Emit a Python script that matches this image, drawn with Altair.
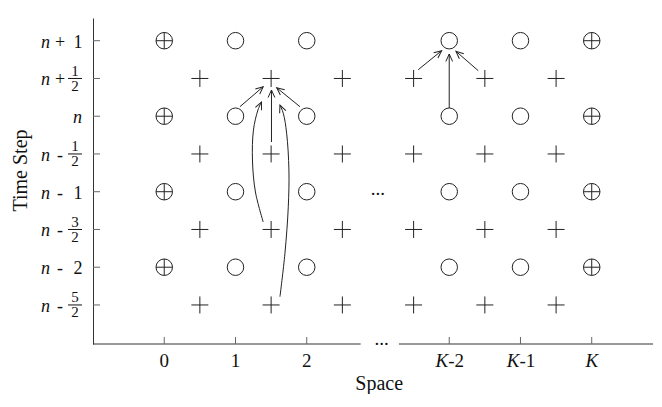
import altair as alt
import pandas as pd
import numpy as np

# ---------------- data ----------------
space_nodes = [0, 1, 2, 4, 5, 6]          # integer grid columns (0,1,2,...,K-2,K-1,K)
boundary_nodes = [0, 6]                   # boundary columns (circle with cross)
half_nodes = [0.5, 1.5, 2.5, 3.5, 4.5, 5.5]
time_levels = [1, 0, -1, -2]              # n+1, n, n-1, n-2
half_levels = [0.5, -0.5, -1.5, -2.5]     # n+1/2 ... n-5/2

time_ticks = [1, 0.5, 0, -0.5, -1, -1.5, -2, -2.5]
time_op = ["+", "+", "", "-", "-", "-", "-", "-"]
time_whole = ["1", "", "", "", "1", "", "2", ""]
time_num = ["", "1", "", "1", "", "3", "", "5"]
time_den = ["", "2", "", "2", "", "2", "", "2"]

space_ticks = [0, 1, 2, 4, 5, 6]
space_main = ["0", "1", "2", "K", "K", "K"]
space_suffix = ["", "", "", "-2", "-1", ""]

# straight arrows (start -> end)
arrow_x0 = [1.062, 1.905, 1.505, 3.565, 4.407, 4.0]
arrow_y0 = [0.126, 0.126, -0.342, 0.616, 0.603, 0.109]
arrow_x1 = [1.389, 1.578, 1.505, 3.893, 4.094, 4.0]
arrow_y1 = [0.391, 0.377, 0.347, 0.868, 0.860, 0.824]

# curved arrows (points from start to end)
curve1_x = [1.389, 1.280, 1.238, 1.252, 1.315, 1.365]
curve1_y = [-1.401, -1.004, -0.580, -0.183, 0.082, 0.188]
curve2_x = [1.624, 1.694, 1.741, 1.750, 1.718, 1.671, 1.624]
curve2_y = [-2.391, -1.816, -1.199, -0.713, -0.226, 0.038, 0.148]

axis_x_start = [-1.0, 3.294]
axis_x_end = [2.757, 6.86]
ellipsis_x = [3.05, 3.0]

# ---------------- layout ----------------
W, H = 560, 326
XMIN, XMAX = -1.0, 6.86
YMIN, YMAX = -3.017, 1.3007
SX = W / (XMAX - XMIN)
SY = H / (YMAX - YMIN)
FONT = "Liberation Serif, Times New Roman, serif"
INK = "#222222"

xs = alt.Scale(domain=[XMIN, XMAX], nice=False, zero=False)
ys = alt.Scale(domain=[YMIN, YMAX], nice=False, zero=False)

y_axis = alt.Axis(domain=True, ticks=False, labels=False, grid=False, domainColor="#333333",
                  domainWidth=1, title="Time Step", titleFont=FONT, titleFontSize=20,
                  titleFontWeight="normal", titleColor="#111111", titleAngle=270,
                  titleX=-73, titleY=152, titleAlign="center", titleBaseline="middle")
x_axis = alt.Axis(domain=False, ticks=False, labels=False, grid=False, title="Space",
                  titleFont=FONT, titleFontSize=20, titleFontWeight="normal", titleColor="#111111",
                  titleX=285.7, titleY=45, titleAlign="center", titleBaseline="alphabetic")


def X(field="x"):
    return alt.X(f"{field}:Q", scale=xs, axis=x_axis, title="Space")


def Y(field="y"):
    return alt.Y(f"{field}:Q", scale=ys, axis=y_axis, title="Time Step")


CROSS = "M-1,0L1,0M0,-1L0,1"
HEAD = "M-0.45,1L0,0L0.45,1"

circles = pd.DataFrame([(x, y) for x in space_nodes for y in time_levels], columns=["x", "y"])
bcross = pd.DataFrame([(x, y) for x in boundary_nodes for y in time_levels], columns=["x", "y"])
hcross = pd.DataFrame([(x, y) for x in half_nodes for y in half_levels], columns=["x", "y"])

circ_layer = alt.Chart(circles).mark_point(shape="circle", size=272, filled=False, color=INK,
                                           strokeWidth=1, opacity=1).encode(x=X(), y=Y())
bcross_layer = alt.Chart(bcross).mark_point(shape=CROSS, size=272, filled=False, color=INK,
                                            strokeWidth=1, opacity=1).encode(x=X(), y=Y())
hcross_layer = alt.Chart(hcross).mark_point(shape=CROSS, size=289, filled=False, color=INK,
                                            strokeWidth=1, opacity=1).encode(x=X(), y=Y())

# x-axis line with gap
axis_df = pd.DataFrame({"x": axis_x_start, "x2": axis_x_end})
xline = alt.Chart(axis_df).mark_rule(color="#333333", strokeWidth=1).encode(
    x=X(), x2="x2:Q", y=alt.value(H))

# ticks (inward)
ytick_df = pd.DataFrame({"y": time_ticks})
yticks = alt.Chart(ytick_df).mark_rule(color="#666666", strokeWidth=1).encode(
    y=Y(), x=alt.value(0), x2=alt.value(7))
xtick_df = pd.DataFrame({"x": space_ticks})
xticks = alt.Chart(xtick_df).mark_rule(color="#666666", strokeWidth=1).encode(
    x=X(), y=alt.value(H), y2=alt.value(H - 7))

# y tick labels
lab = pd.DataFrame({"y": time_ticks, "op": time_op, "whole": time_whole,
                    "num": time_num, "den": time_den})
lab["var"] = "n"
txt = dict(font=FONT, fontSize=18, color="#111111", baseline="alphabetic")
n_var = alt.Chart(lab).transform_filter("datum.op != ''").mark_text(
    align="left", dy=7, fontStyle="italic", **txt).encode(y=Y(), x=alt.value(-52), text="var:N")
n_alone = alt.Chart(lab).transform_filter("datum.op == ''").mark_text(
    align="right", dy=7, fontStyle="italic", **txt).encode(y=Y(), x=alt.value(-11), text="var:N")
ops = alt.Chart(lab).mark_text(align="center", dy=7, **txt).encode(
    y=Y(), x=alt.value(-33), text="op:N")
whole = alt.Chart(lab).mark_text(align="center", dy=7, **txt).encode(
    y=Y(), x=alt.value(-15), text="whole:N")
ftxt = dict(font=FONT, fontSize=15, color="#111111", baseline="alphabetic", align="center")
num = alt.Chart(lab).mark_text(dy=-2.5, **ftxt).encode(y=Y(), x=alt.value(-18), text="num:N")
den = alt.Chart(lab).mark_text(dy=12.5, **ftxt).encode(y=Y(), x=alt.value(-18), text="den:N")
bars = alt.Chart(lab).transform_filter("datum.num != ''").mark_rule(
    color="#111111", strokeWidth=1).encode(y=Y(), x=alt.value(-25), x2=alt.value(-11))

# x tick labels
xl = pd.DataFrame({"x": space_ticks, "main": space_main, "suffix": space_suffix})
xtxt = dict(font=FONT, fontSize=19, color="#111111", baseline="alphabetic")
xl_digits = alt.Chart(xl).transform_filter("datum.main != 'K'").mark_text(
    align="center", **xtxt).encode(x=X(), y=alt.value(H + 23), text="main:N")
xl_k_suf = alt.Chart(xl).transform_filter("datum.main == 'K' && datum.suffix != ''").mark_text(
    align="right", dx=-1, fontStyle="italic", **xtxt).encode(x=X(), y=alt.value(H + 23), text="main:N")
xl_suf = alt.Chart(xl).transform_filter("datum.suffix != ''").mark_text(
    align="left", dx=-1, **xtxt).encode(x=X(), y=alt.value(H + 23), text="suffix:N")
xl_k = alt.Chart(xl).transform_filter("datum.main == 'K' && datum.suffix == ''").mark_text(
    align="center", fontStyle="italic", **xtxt).encode(x=X(), y=alt.value(H + 23), text="main:N")

# ellipses
ell_axis = alt.Chart(pd.DataFrame({"x": [ellipsis_x[0]], "t": ["..."]})).mark_text(
    align="center", dy=1, **xtxt).encode(x=X(), y=alt.value(H), text="t:N")
ell_mid = alt.Chart(pd.DataFrame({"x": [ellipsis_x[1]], "y": [-1], "t": ["..."]})).mark_text(
    align="center", dy=3, **xtxt).encode(x=X(), y=Y(), text="t:N")

# straight arrows
arr = pd.DataFrame({"x": arrow_x0, "y": arrow_y0, "x2": arrow_x1, "y2": arrow_y1})
arr_lines = alt.Chart(arr).mark_rule(color=INK, strokeWidth=1).encode(
    x=X(), y=Y(), x2="x2:Q", y2="y2:Q")

# curved arrows
cdf = pd.concat([
    pd.DataFrame({"x": curve1_x, "y": curve1_y, "order": range(len(curve1_x)), "g": "c1"}),
    pd.DataFrame({"x": curve2_x, "y": curve2_y, "order": range(len(curve2_x)), "g": "c2"}),
])
curves = alt.Chart(cdf).mark_line(interpolate="catmull-rom", color=INK, strokeWidth=1).encode(
    x=X(), y=Y(), order="order:Q", detail="g:N")

# arrowheads
hx, hy, ha = [], [], []
for x0, y0, x1, y1 in zip(arrow_x0, arrow_y0, arrow_x1, arrow_y1):
    hx.append(x1); hy.append(y1)
    ha.append(float(np.degrees(np.arctan2((x1 - x0) * SX, (y1 - y0) * SY)) % 360))
for cx, cy in [(curve1_x, curve1_y), (curve2_x, curve2_y)]:
    hx.append(cx[-1]); hy.append(cy[-1])
    ha.append(float(np.degrees(np.arctan2((cx[-1] - cx[-2]) * SX, (cy[-1] - cy[-2]) * SY)) % 360))
heads = alt.Chart(pd.DataFrame({"x": hx, "y": hy, "a": ha})).mark_point(
    shape=HEAD, size=225, filled=False, color=INK, strokeWidth=1, opacity=1).encode(
    x=X(), y=Y(), angle=alt.Angle("a:Q", scale=None))

chart = alt.layer(
    circ_layer, bcross_layer, hcross_layer, xline, yticks, xticks,
    n_var, n_alone, ops, whole, num, den, bars,
    xl_digits, xl_k_suf, xl_suf, xl_k, ell_axis, ell_mid,
    arr_lines, curves, heads,
).properties(
    width=W, height=H,
    autosize=alt.AutoSizeParams(type="none"),
    padding={"left": 85, "top": 10, "right": 0, "bottom": 50},
).configure_view(stroke=None)

chart.save("out.html", embed_options={"renderer": "svg", "actions": False})
